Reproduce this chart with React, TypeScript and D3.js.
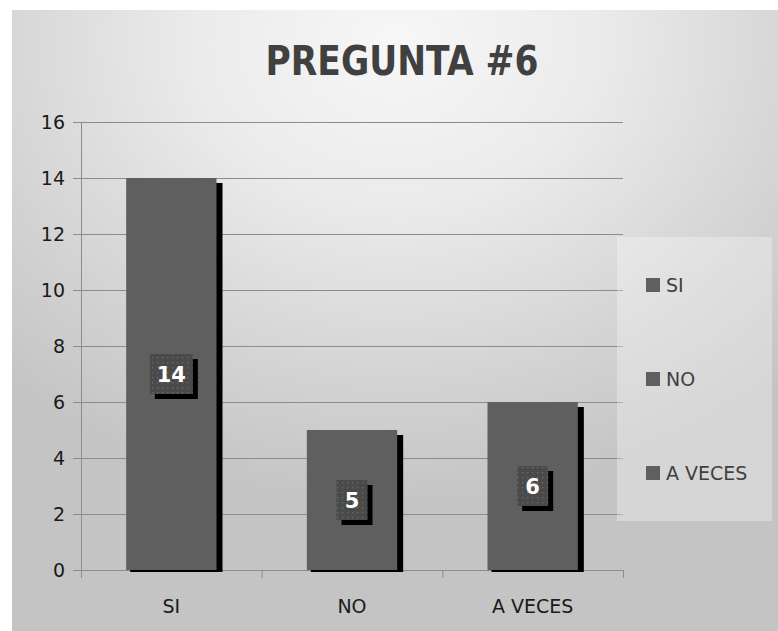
import React from "react";
import * as d3 from "d3";

const categories = ["SI", "NO", "A VECES"];
const values = [14, 5, 6];
const yTicks = [0, 2, 4, 6, 8, 10, 12, 14, 16];
const title = "PREGUNTA #6";

const W = 778;
const H = 631;
const FONT = "'DejaVu Sans', 'Open Sans', sans-serif";

export default function App() {
  const x = d3.scaleBand<string>().domain(categories).range([81, 623]).paddingInner(0).paddingOuter(0);
  const y = d3.scaleLinear().domain([0, 16]).range([570, 122]);
  const barW = x.bandwidth() * 0.5;

  return (
    <svg
      width={W}
      height={H}
      style={{ position: "absolute", left: 0, top: 0, display: "block" }}
    >
      <defs>
        <radialGradient id="bg" cx="0.5" cy="0.05" r="0.75" fx="0.5" fy="0.05">
          <stop offset="0" stopColor="#f7f7f7" />
          <stop offset="0.35" stopColor="#ebebeb" />
          <stop offset="0.75" stopColor="#d2d2d2" />
          <stop offset="1" stopColor="#c4c4c4" />
        </radialGradient>
        <pattern id="dots" width="5" height="5" patternUnits="userSpaceOnUse">
          <rect width="5" height="5" fill="#4a4a4a" />
          <rect x="2" y="2" width="1.3" height="1.3" fill="#6a6a6a" />
        </pattern>
      </defs>
      <rect x={12} y={10} width={W - 12} height={H - 10} fill="url(#bg)" />

      {/* gridlines */}
      {yTicks.map((t) => (
        <line
          key={"g" + t}
          x1={73}
          x2={623}
          y1={y(t) + 0.5}
          y2={y(t) + 0.5}
          stroke="#8c8c8c"
          strokeWidth={1}
        />
      ))}
      {/* y axis line */}
      <line x1={81.5} x2={81.5} y1={y(16)} y2={y(0) + 1} stroke="#8c8c8c" />
      {/* category ticks */}
      {[...categories.map((c) => x(c)!), 623].map((v, i) => (
        <line key={"ct" + i} x1={v + 0.5} x2={v + 0.5} y1={y(0)} y2={y(0) + 8} stroke="#8c8c8c" />
      ))}
      {/* y tick labels */}
      {yTicks.map((t) => (
        <text
          key={"yl" + t}
          x={65}
          y={y(t) + 7}
          textAnchor="end"
          fontFamily={FONT}
          fontSize={19}
          fill="#1a1a1a"
        >
          {t}
        </text>
      ))}
      {/* bars */}
      {categories.map((c, i) => {
        const bx = x(c)! + (x.bandwidth() - barW) / 2;
        const by = y(values[i]);
        return (
          <g key={"b" + c}>
            <rect x={bx + 4} y={by + 5} width={barW + 2} height={y(0) - by - 3} fill="#000" />
            <rect x={bx} y={by} width={barW} height={y(0) - by} fill="#5f5f5f" />
          </g>
        );
      })}
      {/* data labels */}
      {categories.map((c, i) => {
        const cx = x(c)! + x.bandwidth() / 2;
        const cy = y(values[i] / 2);
        const label = String(values[i]);
        const bw = label.length > 1 ? 43 : 31;
        const bh = 40;
        return (
          <g key={"l" + c}>
            <rect x={cx - bw / 2 + 5} y={cy - bh / 2 + 5} width={bw} height={bh} fill="#000" />
            <rect x={cx - bw / 2} y={cy - bh / 2} width={bw} height={bh} fill="url(#dots)" />
            <text
              x={cx}
              y={cy + 8}
              textAnchor="middle"
              fontFamily={FONT}
              fontWeight="bold"
              fontSize={21}
              fill="#ffffff"
            >
              {label}
            </text>
          </g>
        );
      })}
      {/* category labels */}
      {categories.map((c) => (
        <text
          key={"cl" + c}
          x={x(c)! + x.bandwidth() / 2}
          y={613}
          textAnchor="middle"
          fontFamily={FONT}
          fontSize={19}
          fill="#1a1a1a"
        >
          {c}
        </text>
      ))}
      {/* title */}
      <text
        x={402}
        y={75}
        textAnchor="middle"
        fontFamily={FONT}
        fontWeight="bold"
        fontSize={41}
        textLength={273}
        lengthAdjust="spacingAndGlyphs"
        fill="#404040"
      >
        {title}
      </text>
      {/* legend */}
      <rect x={617} y={237} width={155} height={284} fill="#ffffff" fillOpacity={0.3} />
      {categories.map((c, i) => {
        const ly = 285 + i * 94;
        return (
          <g key={"lg" + c}>
            <rect x={646} y={ly - 7} width={14} height={14} fill="#5f5f5f" />
            <text x={666} y={ly + 7} fontFamily={FONT} fontSize={19} fill="#404040">
              {c}
            </text>
          </g>
        );
      })}
    </svg>
  );
}
